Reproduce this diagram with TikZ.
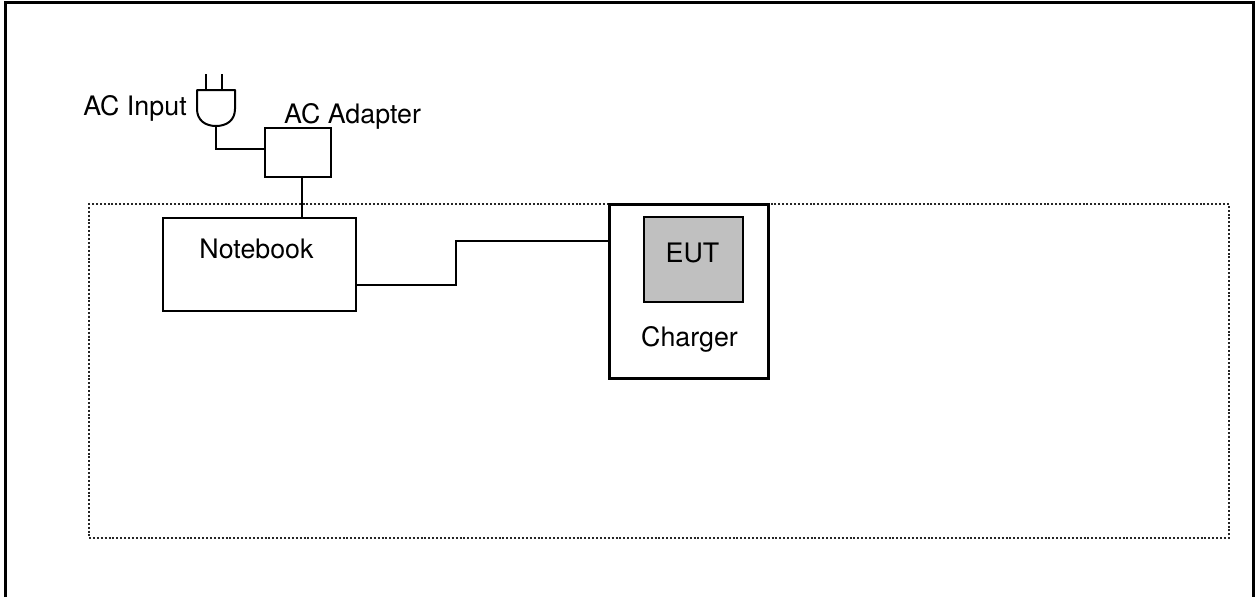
\documentclass[tikz,border=0pt]{standalone}
\usepackage{fontspec}
\setmainfont{TeX Gyre Heros}
\tikzset{
  boxthin/.style={draw=black,line width=2pt,minimum width=#1,outer sep=0pt,inner sep=0pt},
  label/.style={anchor=base,inner sep=0pt,font=\fontsize{26.8pt}{30pt}\selectfont,text=black},
  wire/.style={draw=black,line width=2pt,line join=miter},
  zone/.style={draw=black!85,line width=2pt,dash pattern=on 2pt off 1.9pt},
  frame/.style={draw=black,line width=3pt}
}
\definecolor{eutgray}{HTML}{C0C0C0}
\begin{document}
\begin{tikzpicture}[x=1pt,y=-1pt]
\useasboundingbox (0,0) rectangle (1258,597);
% outer frame, open at the bottom
\draw[frame] (5.5,597) -- (5.5,2.5) -- (1253.5,2.5) -- (1253.5,597);
% dotted zone
\node[zone,minimum width=1140pt,minimum height=334pt,outer sep=0pt,inner sep=0pt] (zone) at (659,371) {};
% equipment
\node[boxthin=193pt,minimum height=93pt] (notebook) at (259.5,264.5) {};
\node[boxthin=66pt,minimum height=49pt] (adapter) at (298,152.5) {};
\node[draw=black,line width=3pt,fill=white,minimum width=159pt,minimum height=174pt,outer sep=0pt,inner sep=0pt] (charger) at (689,291) {};
\node[draw=black,line width=2.4pt,fill=eutgray,minimum width=99pt,minimum height=85pt,outer sep=0pt,inner sep=0pt] (eut) at (693.5,259.5) {};
% plug
\node[minimum width=38pt,minimum height=36pt,outer sep=0pt,inner sep=0pt] (plug) at (216,108) {};
\draw[wire,line join=round] (plug.north west) -- (plug.north east) -- (235,109)
  .. controls (235,120) and (227,126) .. (plug.south)
  .. controls (205,126) and (197,120) .. (197,109) -- cycle;
\coordinate (prongA) at (206,74);
\coordinate (prongB) at (222,74);
\draw[wire] (prongA) -- (prongA |- plug.north);
\draw[wire] (prongB) -- (prongB |- plug.north);
% connectors
\coordinate (adapterin) at ([yshift=3.5pt]adapter.west);
\draw[wire] (plug.south) |- (adapterin);
\draw[wire] ([xshift=4pt]adapter.south) -- ([xshift=42.5pt]notebook.north);
\coordinate (bend) at (456,263);
\coordinate (nbout) at ([yshift=-20.5pt]notebook.east);
\coordinate (chin) at ([yshift=50pt]charger.west);
\draw[wire] (nbout) -| (bend) |- (chin);
% labels
\node[label] (lacinput) at (135,115) {AC Input};
\node[label] (ladapter) at (352.5,123) {AC Adapter};
\node[label] (lnotebook) at (256.5,258) {Notebook};
\node[label] (leut) at (692.5,262) {EUT};
\node[label] (lcharger) at (689.5,346) {Charger};
\end{tikzpicture}
\end{document}
